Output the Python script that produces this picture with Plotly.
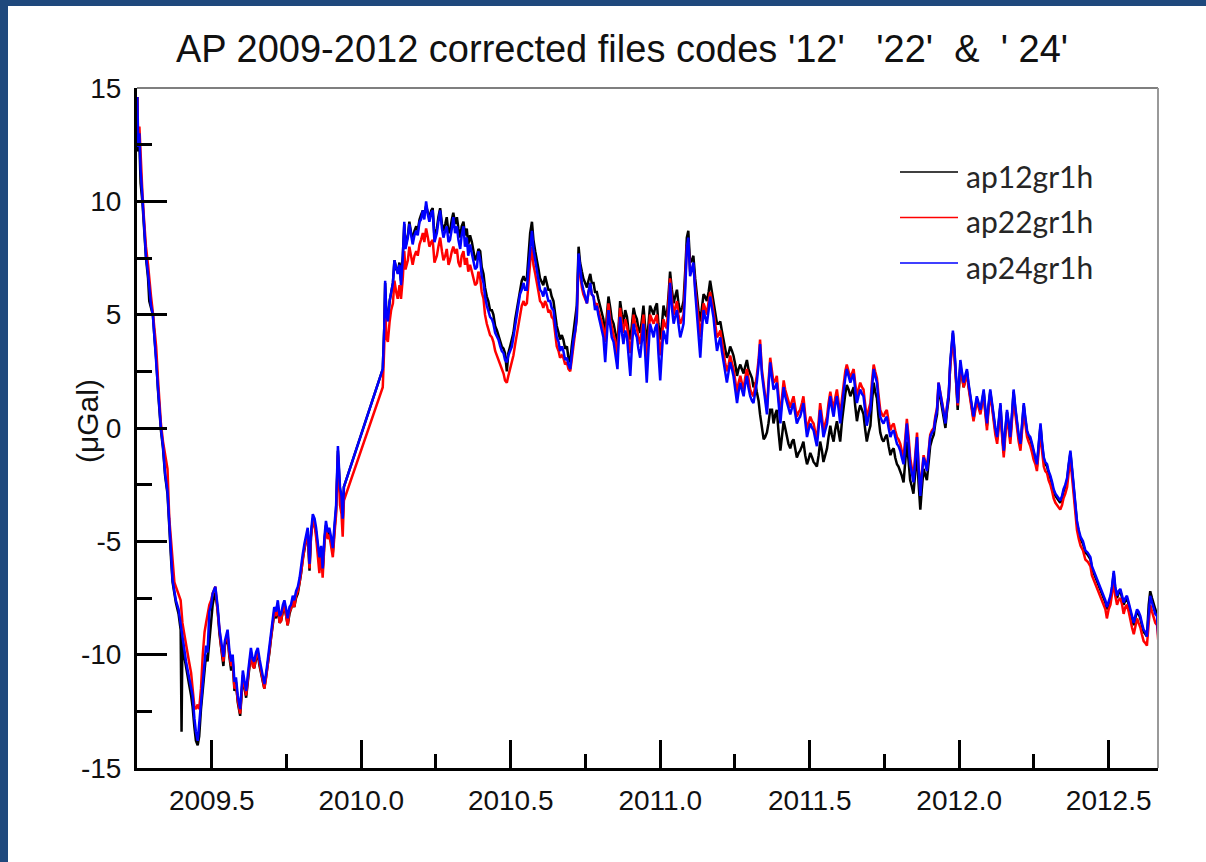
import plotly.graph_objects as go

# ---------------- data (decimal year, µGal) ----------------
dates = [
    2009.251, 2009.254, 2009.258, 2009.262, 2009.268, 2009.273, 2009.280, 2009.287, 2009.291, 2009.297,
    2009.303, 2009.309, 2009.314, 2009.320, 2009.325, 2009.330, 2009.337, 2009.344, 2009.352, 2009.358,
    2009.364, 2009.369, 2009.375, 2009.380, 2009.389, 2009.396, 2009.399, 2009.402, 2009.407, 2009.414,
    2009.424, 2009.431, 2009.436, 2009.442, 2009.447, 2009.453, 2009.458, 2009.464, 2009.470, 2009.476,
    2009.481, 2009.486, 2009.492, 2009.498, 2009.503, 2009.512, 2009.520, 2009.526, 2009.531, 2009.539,
    2009.544, 2009.548, 2009.553, 2009.559, 2009.565, 2009.570, 2009.576, 2009.581, 2009.587, 2009.595,
    2009.600, 2009.604, 2009.610, 2009.615, 2009.623, 2009.631, 2009.637, 2009.642, 2009.648, 2009.654,
    2009.660, 2009.665, 2009.671, 2009.676, 2009.682, 2009.687, 2009.693, 2009.698, 2009.704, 2009.709,
    2009.715, 2009.721, 2009.727, 2009.732, 2009.738, 2009.743, 2009.749, 2009.754, 2009.760, 2009.765,
    2009.771, 2009.776, 2009.782, 2009.788, 2009.794, 2009.799, 2009.804, 2009.810, 2009.815, 2009.821,
    2009.827, 2009.832, 2009.838, 2009.844, 2009.849, 2009.854, 2009.860, 2009.866, 2009.871, 2009.877,
    2009.882, 2009.888, 2009.893, 2009.899, 2009.905, 2009.911, 2009.916, 2009.922, 2009.926, 2009.929,
    2009.934, 2009.938, 2009.942,
    2010.072, 2010.077, 2010.080, 2010.084, 2010.089, 2010.095, 2010.100, 2010.106, 2010.111, 2010.117,
    2010.122, 2010.128, 2010.133, 2010.139, 2010.144, 2010.148, 2010.156, 2010.161, 2010.167, 2010.172,
    2010.178, 2010.184, 2010.189, 2010.195, 2010.200, 2010.206, 2010.211, 2010.217, 2010.223, 2010.228,
    2010.234, 2010.239, 2010.245, 2010.253, 2010.258, 2010.264, 2010.270, 2010.275, 2010.281, 2010.286,
    2010.292, 2010.297, 2010.303, 2010.308, 2010.314, 2010.320, 2010.325, 2010.331, 2010.336, 2010.342,
    2010.347, 2010.353, 2010.358, 2010.364, 2010.370, 2010.375, 2010.381, 2010.387, 2010.392, 2010.398,
    2010.403, 2010.409, 2010.414, 2010.420, 2010.425, 2010.431, 2010.437, 2010.442, 2010.448, 2010.454,
    2010.459, 2010.465, 2010.470, 2010.476, 2010.481, 2010.487, 2010.492, 2010.498, 2010.504, 2010.509,
    2010.515, 2010.520, 2010.526, 2010.531, 2010.537, 2010.543, 2010.548, 2010.554, 2010.559, 2010.565,
    2010.571, 2010.576, 2010.582, 2010.587, 2010.593, 2010.598, 2010.604, 2010.609, 2010.615, 2010.621,
    2010.626, 2010.632, 2010.637, 2010.643, 2010.649, 2010.654, 2010.660, 2010.665, 2010.671, 2010.676,
    2010.682, 2010.688, 2010.693, 2010.699, 2010.704, 2010.710, 2010.716, 2010.721, 2010.727, 2010.732,
    2010.738, 2010.743, 2010.749, 2010.755, 2010.760, 2010.766, 2010.771, 2010.777, 2010.782, 2010.788,
    2010.793, 2010.799, 2010.805, 2010.810, 2010.816, 2010.821, 2010.827, 2010.833, 2010.838, 2010.844,
    2010.849, 2010.853, 2010.857, 2010.861, 2010.866, 2010.872, 2010.877, 2010.883, 2010.889, 2010.894,
    2010.900, 2010.905, 2010.911, 2010.916, 2010.922, 2010.927, 2010.933, 2010.939, 2010.944, 2010.950,
    2010.955, 2010.961, 2010.966, 2010.972, 2010.978, 2010.983, 2010.989, 2010.994, 2011.000, 2011.006,
    2011.011, 2011.017, 2011.022, 2011.028, 2011.033, 2011.039, 2011.045, 2011.050, 2011.056, 2011.061,
    2011.067, 2011.073, 2011.078, 2011.084, 2011.089, 2011.094, 2011.100, 2011.106, 2011.111, 2011.117,
    2011.123, 2011.128, 2011.134, 2011.139, 2011.145, 2011.150, 2011.156, 2011.162, 2011.167, 2011.173,
    2011.178, 2011.184, 2011.190, 2011.195, 2011.201, 2011.206, 2011.212, 2011.217, 2011.223, 2011.229,
    2011.234, 2011.240, 2011.245, 2011.251, 2011.257, 2011.262, 2011.268, 2011.273, 2011.279, 2011.284,
    2011.290, 2011.295, 2011.301, 2011.307, 2011.312, 2011.318, 2011.323, 2011.329, 2011.334, 2011.340,
    2011.346, 2011.351, 2011.357, 2011.362, 2011.368, 2011.374, 2011.379, 2011.385, 2011.390, 2011.396,
    2011.402, 2011.407, 2011.413, 2011.418, 2011.424, 2011.429, 2011.435, 2011.441, 2011.446, 2011.452,
    2011.457, 2011.463, 2011.468, 2011.474, 2011.479, 2011.485, 2011.491, 2011.496, 2011.502, 2011.508,
    2011.513, 2011.519, 2011.524, 2011.530, 2011.535, 2011.541, 2011.546, 2011.552, 2011.558, 2011.563,
    2011.569, 2011.574, 2011.580, 2011.585, 2011.591, 2011.597, 2011.602, 2011.608, 2011.613, 2011.619,
    2011.624, 2011.630, 2011.636, 2011.641, 2011.647, 2011.652, 2011.658, 2011.663, 2011.669, 2011.675,
    2011.680, 2011.686, 2011.691, 2011.697, 2011.703, 2011.708, 2011.714, 2011.719, 2011.725, 2011.730,
    2011.736, 2011.742, 2011.747, 2011.753, 2011.758, 2011.764, 2011.770, 2011.775, 2011.781, 2011.786,
    2011.792, 2011.797, 2011.803, 2011.808, 2011.814, 2011.820, 2011.825, 2011.831, 2011.836, 2011.842,
    2011.847, 2011.853, 2011.859, 2011.864, 2011.870, 2011.875, 2011.881, 2011.887, 2011.892, 2011.898,
    2011.903, 2011.909, 2011.915, 2011.920, 2011.926, 2011.931, 2011.937, 2011.943, 2011.948, 2011.954,
    2011.959, 2011.965, 2011.970, 2011.975, 2011.979, 2011.984, 2011.987, 2011.991, 2011.995, 2011.999,
    2012.004, 2012.009, 2012.015, 2012.020, 2012.026, 2012.031, 2012.037, 2012.043, 2012.048, 2012.054,
    2012.059, 2012.065, 2012.071, 2012.076, 2012.082, 2012.087, 2012.093, 2012.098, 2012.104, 2012.110,
    2012.115, 2012.121, 2012.127, 2012.132, 2012.138, 2012.143, 2012.149, 2012.154, 2012.160, 2012.166,
    2012.171, 2012.177, 2012.182, 2012.188, 2012.194, 2012.199, 2012.205, 2012.210, 2012.216, 2012.221,
    2012.227, 2012.232, 2012.238, 2012.244, 2012.249, 2012.255, 2012.260, 2012.266, 2012.272, 2012.277,
    2012.283, 2012.288, 2012.294, 2012.299, 2012.305, 2012.311, 2012.316, 2012.322, 2012.327, 2012.333,
    2012.338, 2012.344, 2012.349, 2012.355, 2012.361, 2012.366, 2012.372, 2012.377, 2012.383, 2012.389,
    2012.394, 2012.400, 2012.406, 2012.414, 2012.422, 2012.430, 2012.439, 2012.444, 2012.450, 2012.455,
    2012.461, 2012.466, 2012.472, 2012.478, 2012.483, 2012.489, 2012.494, 2012.500, 2012.506, 2012.511,
    2012.517, 2012.522, 2012.528, 2012.533, 2012.539, 2012.545, 2012.550, 2012.556, 2012.561, 2012.567,
    2012.572, 2012.578, 2012.584, 2012.589, 2012.595, 2012.600, 2012.606, 2012.611, 2012.617, 2012.623,
    2012.628, 2012.634, 2012.639, 2012.645, 2012.651, 2012.656, 2012.662, 2012.666,
]

# ap12gr1h (black)
ap12gr1h = [
    14.6, 12.2, 12.6, 10.8, 10.0, 8.9, 7.5, 6.6, 5.6, 5.3,
    5.0, 3.9, 3.1, 1.7, 0.8, -0.1, -0.9, -2.1, -2.9, -4.6,
    -5.8, -6.8, -7.4, -7.7, -8.2, -8.9, -13.4, -9.3, -10.0, -10.6,
    -11.3, -11.8, -12.3, -13.2, -13.8, -14.0, -13.6, -12.4, -11.6, -10.8,
    -10.0, -10.3, -9.4, -8.6, -7.8, -7.2, -8.1, -9.1, -9.7, -10.5,
    -9.6, -9.4, -9.2, -10.1, -10.7, -10.3, -11.6, -11.2, -12.1, -12.7,
    -11.8, -11.0, -11.5, -11.9, -10.9, -10.0, -10.4, -10.6, -10.2, -10.0,
    -10.5, -10.9, -11.2, -11.5, -11.0, -10.5, -9.9, -9.3, -8.8, -8.2,
    -8.4, -7.9, -8.6, -8.5, -8.1, -7.9, -8.3, -8.7, -8.2, -8.0,
    -7.7, -7.9, -7.5, -7.3, -6.9, -6.4, -5.8, -5.3, -5.0, -4.6,
    -6.3, -4.8, -4.0, -4.3, -4.6, -5.2, -5.9, -5.4, -6.3, -5.0,
    -4.3, -4.8, -4.6, -5.0, -5.5, -4.4, -3.6, -1.0, -2.0, -2.8,
    -3.2, -4.1, -2.6,
    2.6, 4.4, 6.4, 5.0, 4.8, 5.6, 6.0, 6.4, 7.4, 7.0,
    6.9, 7.3, 6.5, 7.6, 9.0, 8.0, 8.5, 9.1, 8.6, 8.3,
    8.7, 8.9, 8.7, 9.2, 9.4, 9.6, 9.4, 9.8, 9.5, 9.3,
    9.6, 9.7, 8.4, 8.8, 9.3, 9.7, 9.0, 8.7, 9.0, 9.3,
    8.6, 8.7, 9.2, 9.5, 9.0, 9.3, 8.8, 8.4, 8.9, 9.1,
    8.5, 8.8, 8.1, 8.5, 8.2, 7.9, 7.4, 7.6, 7.9, 7.8,
    7.1, 6.8, 6.2, 5.8, 5.6, 5.2, 5.2, 5.0, 4.5, 4.3,
    4.1, 3.8, 3.6, 3.5, 3.3, 2.5, 3.3, 3.6, 3.9, 4.2,
    4.8, 5.2, 5.7, 6.2, 6.5, 6.7, 6.5, 6.6, 7.6, 8.6,
    9.1, 8.3, 7.8, 7.5, 7.0, 6.6, 6.4, 6.3, 6.7, 6.4,
    6.1, 6.1, 5.8, 5.6, 5.0, 4.5, 4.2, 3.9, 4.1, 3.9,
    3.5, 3.6, 3.1, 2.9, 3.6, 4.3, 4.8, 5.4, 8.0, 7.3,
    6.9, 6.6, 6.4, 6.2, 6.5, 6.8, 6.4, 6.4, 6.0, 6.0,
    5.7, 5.4, 5.1, 4.8, 4.1, 5.0, 5.8, 5.3, 4.8, 4.6,
    4.3, 4.0, 3.6, 4.7, 5.6, 5.0, 4.6, 5.2, 4.9, 4.3,
    3.9, 4.5, 5.3, 5.0, 4.8, 4.4, 4.2, 4.8, 5.4, 4.4,
    3.7, 4.6, 5.4, 5.2, 5.0, 5.3, 5.5, 4.6, 3.9, 4.6,
    5.4, 5.0, 4.9, 5.9, 6.9, 6.1, 5.5, 5.8, 6.1, 5.5,
    5.1, 5.3, 5.6, 7.0, 8.4, 8.7, 7.3, 7.4, 7.6, 6.6,
    5.8, 5.2, 4.7, 5.2, 5.9, 5.8, 5.6, 6.0, 6.5, 6.0,
    5.6, 5.1, 4.6, 4.6, 4.7, 4.3, 3.9, 3.5, 3.1, 3.3,
    3.6, 3.4, 3.2, 2.8, 2.3, 2.6, 2.8, 2.6, 2.4, 2.7,
    3.0, 2.6, 2.4, 2.2, 1.8, 2.0, 1.6, 1.2, 0.6, 0.0,
    -0.5, -0.4, -0.2, 0.2, 0.8, 0.8, 0.2, 0.6, 0.8, -0.2,
    -1.0, -0.4, 0.3, 0.0, -0.4, -0.7, -0.9, -0.6, -0.5, -1.0,
    -1.3, -1.1, -1.0, -0.8, -0.6, -1.2, -1.6, -1.4, -1.1, -1.3,
    -1.5, -1.6, -1.7, -1.2, -0.6, -1.0, -1.5, -1.2, -0.9, -0.4,
    0.1, -0.3, -0.6, -0.1, 0.3, -0.2, -0.6, 0.3, 1.0, 1.5,
    1.9, 1.7, 1.4, 1.6, 1.8, 1.0, 0.3, 0.7, 1.0, 0.8,
    0.6, -0.1, -0.6, -0.2, 0.1, 1.1, 2.0, 1.6, 1.3, 0.5,
    -0.2, -0.5, -0.6, -0.4, -0.3, -0.8, -1.2, -1.0, -0.9, -1.3,
    -1.6, -1.7, -1.9, -2.1, -2.4, -1.4, -0.6, -1.5, -2.3, -2.6,
    -2.9, -2.0, -1.0, -2.4, -3.6, -2.7, -1.8, -2.1, -2.3, -1.5,
    -0.8, -0.5, -0.3, 0.2, 0.6, 1.8, 1.3, 0.9, 0.4, 0.0,
    0.7, 1.3, 2.8, 3.7, 4.2, 3.4, 2.8, 1.6, 0.8, 1.7,
    2.8, 2.3, 1.8, 2.1, 2.5, 1.9, 1.3, 0.8, 0.4, 0.9,
    1.3, 1.0, 0.7, 1.1, 1.6, 0.8, 0.1, 0.9, 1.6, 1.0,
    0.4, -0.1, -0.5, 0.3, 1.0, -0.1, -1.1, -0.2, 0.7, 0.1,
    -0.5, 0.6, 1.6, 0.8, 0.1, -0.4, -0.8, 0.1, 1.0, 0.4,
    -0.2, -0.4, -0.5, -0.8, -1.1, -1.4, -1.7, -0.8, 0.1, -0.7,
    -1.4, -1.6, -1.7, -2.0, -2.2, -2.5, -2.8, -3.0, -3.1, -3.2,
    -3.3, -3.1, -2.8, -2.6, -2.3, -1.7, -1.1, -1.8, -2.7, -3.5,
    -4.2, -4.6, -4.9, -5.1, -5.5, -5.6, -5.8, -6.2, -6.4, -6.5,
    -6.7, -6.9, -7.1, -7.3, -7.5, -7.7, -8.0, -7.7, -7.5, -7.1,
    -6.4, -7.1, -7.5, -7.3, -7.2, -7.5, -7.8, -7.6, -7.5, -7.8,
    -8.1, -8.4, -8.7, -8.4, -8.1, -8.2, -8.4, -8.7, -9.0, -9.1,
    -9.2, -7.8, -7.2, -7.5, -7.8, -8.0, -8.2, -9.0,
]

# ap22gr1h (red)
ap22gr1h = [
    14.6, 12.8, 13.3, 11.8, 10.4, 9.3, 8.0, 7.2, 6.5, 5.8,
    5.1, 4.3, 3.6, 2.2, 1.3, 0.2, -0.6, -1.2, -1.8, -4.0,
    -5.0, -6.0, -6.8, -7.0, -7.3, -7.6, -8.1, -8.6, -9.0, -9.6,
    -10.3, -10.8, -11.6, -12.3, -12.4, -12.2, -12.4, -11.5, -10.0, -9.0,
    -8.6, -8.3, -7.8, -7.6, -7.3, -7.0, -8.0, -9.0, -9.6, -10.3,
    -9.5, -9.3, -9.1, -10.0, -10.5, -10.2, -11.5, -11.3, -12.0, -12.6,
    -11.7, -10.9, -11.4, -11.8, -10.8, -9.9, -10.5, -10.6, -10.1, -9.9,
    -10.4, -10.8, -11.1, -11.5, -11.0, -10.5, -9.9, -9.3, -8.8, -8.1,
    -8.3, -7.8, -8.6, -8.5, -8.0, -7.8, -8.3, -8.7, -8.1, -8.0,
    -7.6, -7.9, -7.4, -7.2, -6.8, -6.4, -5.9, -5.3, -5.0, -4.6,
    -6.2, -4.8, -4.0, -4.3, -4.8, -5.4, -6.4, -5.5, -6.6, -5.1,
    -4.4, -4.9, -4.7, -5.2, -5.7, -4.6, -3.8, -1.2, -2.4, -3.4,
    -3.8, -4.8, -3.2,
    1.8, 3.6, 5.5, 4.0, 3.8, 4.7, 5.2, 5.5, 6.5, 6.0,
    5.7, 6.3, 5.7, 6.6, 7.8, 7.0, 7.4, 8.0, 7.5, 7.2,
    7.6, 7.8, 7.6, 8.1, 8.3, 8.6, 8.2, 8.8, 8.4, 8.0,
    8.2, 8.3, 7.3, 7.6, 8.0, 8.4, 7.8, 7.4, 7.6, 7.9,
    7.2, 7.4, 7.8, 8.0, 7.7, 7.9, 7.3, 7.1, 7.6, 7.8,
    7.2, 7.5, 6.9, 7.2, 6.9, 6.6, 6.3, 6.4, 6.9, 6.6,
    6.0, 5.7, 5.0, 4.6, 4.4, 4.1, 4.0, 3.8, 3.4, 3.2,
    3.0, 2.8, 2.6, 2.4, 2.1, 2.0, 2.3, 2.6, 2.9, 3.2,
    3.7, 4.1, 4.5, 5.0, 5.4, 5.6, 5.4, 5.5, 6.4, 7.3,
    8.0, 7.2, 6.8, 6.5, 6.0, 5.6, 5.5, 5.3, 5.6, 5.4,
    5.1, 5.2, 4.9, 4.8, 4.2, 3.6, 3.4, 3.1, 3.2, 3.1,
    2.8, 2.9, 2.6, 2.5, 3.0, 3.7, 4.2, 4.8, 7.4, 6.8,
    6.2, 5.9, 5.7, 5.5, 6.0, 6.3, 5.9, 5.8, 5.4, 5.5,
    5.2, 4.9, 4.7, 4.4, 3.8, 4.5, 5.5, 4.8, 4.4, 4.1,
    3.9, 3.6, 3.2, 4.3, 5.3, 4.6, 4.2, 4.8, 4.5, 3.9,
    3.3, 4.0, 5.0, 4.6, 4.4, 4.0, 3.7, 4.4, 5.0, 3.8,
    3.0, 4.0, 5.0, 4.8, 4.6, 4.8, 5.0, 4.0, 3.2, 4.0,
    4.8, 4.5, 4.4, 5.6, 6.6, 5.7, 5.0, 5.3, 5.6, 5.0,
    4.6, 4.8, 5.0, 6.6, 8.0, 8.2, 6.9, 7.0, 7.2, 6.2,
    5.3, 4.6, 4.0, 4.7, 5.5, 5.3, 5.0, 5.6, 6.0, 5.6,
    5.2, 4.6, 4.0, 4.1, 4.3, 3.8, 3.3, 2.9, 2.5, 2.8,
    3.2, 2.9, 2.6, 2.1, 1.5, 2.0, 2.3, 2.0, 1.7, 2.2,
    2.6, 2.2, 1.7, 1.5, 1.4, 1.9, 2.3, 3.0, 3.9, 2.6,
    1.9, 1.3, 0.8, 2.0, 3.1, 2.5, 2.0, 2.1, 2.3, 1.4,
    0.5, 1.3, 2.1, 1.7, 1.4, 1.1, 0.9, 1.2, 1.4, 0.9,
    0.5, 0.7, 0.8, 1.1, 1.4, 0.6, -0.1, 0.2, 0.5, 0.3,
    0.2, -0.2, -0.5, 0.3, 1.1, 0.5, -0.1, 0.2, 0.5, 1.1,
    1.6, 1.2, 0.8, 1.3, 1.7, 1.1, 0.5, 1.3, 2.0, 2.5,
    2.8, 2.5, 2.2, 2.4, 2.6, 2.0, 1.4, 1.7, 2.0, 1.8,
    1.7, 1.0, 0.4, 0.8, 1.1, 2.0, 2.8, 2.5, 2.2, 1.5,
    0.8, 0.6, 0.5, 0.7, 0.8, 0.3, -0.1, 0.1, 0.2, -0.1,
    -0.4, -0.5, -0.7, -1.0, -1.3, -0.4, 0.4, -0.4, -1.3, -1.8,
    -2.2, -1.2, -0.2, -1.6, -2.8, -2.0, -1.2, -1.5, -1.8, -1.0,
    -0.3, -0.1, 0.0, 0.5, 0.9, 2.0, 1.5, 1.2, 0.7, 0.3,
    0.9, 1.5, 2.7, 3.5, 3.9, 3.2, 2.6, 1.8, 1.0, 1.8,
    2.7, 2.3, 1.8, 2.1, 2.4, 1.8, 1.2, 0.7, 0.3, 0.8,
    1.2, 0.9, 0.6, 1.0, 1.5, 0.7, -0.1, 0.8, 1.5, 0.9,
    0.3, -0.3, -0.7, 0.1, 0.8, -0.3, -1.3, -0.4, 0.5, -0.1,
    -0.7, 0.4, 1.3, 0.6, -0.1, -0.6, -1.0, -0.1, 0.8, 0.2,
    -0.4, -0.6, -0.8, -1.1, -1.4, -1.6, -1.9, -1.0, -0.2, -1.0,
    -1.7, -1.9, -2.0, -2.3, -2.5, -2.8, -3.1, -3.3, -3.4, -3.5,
    -3.6, -3.4, -3.1, -2.9, -2.6, -2.0, -1.4, -2.1, -3.0, -3.8,
    -4.5, -4.9, -5.2, -5.4, -5.8, -5.9, -6.1, -6.5, -6.7, -6.8,
    -7.0, -7.2, -7.4, -7.6, -7.8, -8.0, -8.4, -8.0, -7.8, -7.4,
    -6.8, -7.4, -7.8, -7.6, -7.5, -7.8, -8.2, -7.9, -7.8, -8.1,
    -8.5, -8.8, -9.1, -8.7, -8.4, -8.6, -8.8, -9.1, -9.4, -9.5,
    -9.6, -8.6, -7.8, -8.1, -8.4, -8.6, -8.7, -9.4,
]

# ap24gr1h (blue)
ap24gr1h = [
    14.6, 12.4, 13.0, 11.4, 10.2, 9.0, 7.6, 6.8, 6.2, 5.4,
    5.0, 4.0, 3.2, 1.8, 0.9, 0.0, -0.8, -2.0, -2.8, -4.4,
    -5.6, -6.7, -7.2, -7.6, -8.0, -8.7, -8.9, -9.1, -9.8, -10.3,
    -11.0, -11.5, -11.8, -12.8, -13.4, -13.8, -13.0, -12.0, -11.2, -10.4,
    -9.6, -9.9, -8.1, -7.8, -7.3, -7.0, -7.9, -8.9, -9.4, -10.1,
    -9.4, -9.1, -8.9, -9.8, -10.3, -10.0, -11.2, -11.0, -11.8, -12.4,
    -11.5, -10.7, -11.2, -11.6, -10.6, -9.7, -10.2, -10.3, -9.9, -9.7,
    -10.2, -10.6, -10.9, -11.3, -10.8, -10.3, -9.7, -9.1, -8.6, -7.9,
    -8.1, -7.6, -8.3, -8.2, -7.8, -7.6, -8.0, -8.4, -7.9, -7.8,
    -7.4, -7.6, -7.2, -7.0, -6.6, -6.2, -5.6, -5.1, -4.8, -4.4,
    -6.0, -4.6, -3.8, -4.0, -4.4, -5.0, -5.7, -5.2, -6.2, -4.8,
    -4.1, -4.6, -4.4, -4.8, -5.3, -4.2, -3.4, -0.8, -1.8, -2.6,
    -3.0, -4.0, -2.6,
    2.6, 4.4, 6.5, 5.0, 4.7, 5.6, 5.9, 6.4, 7.4, 7.0,
    6.8, 7.2, 6.3, 7.5, 9.1, 7.9, 8.4, 9.0, 8.4, 8.1,
    8.5, 8.7, 8.5, 9.1, 9.2, 9.6, 9.2, 10.0, 9.4, 9.1,
    9.5, 9.6, 8.2, 8.6, 9.1, 9.6, 8.8, 8.4, 8.7, 8.9,
    8.2, 8.3, 8.8, 9.3, 8.6, 8.9, 8.3, 7.9, 8.5, 8.9,
    8.0, 8.4, 7.6, 8.1, 7.7, 7.4, 7.0, 7.1, 7.8, 7.4,
    6.7, 6.4, 5.8, 5.4, 5.2, 4.9, 4.8, 4.6, 4.2, 4.0,
    3.9, 3.6, 3.4, 3.3, 3.0, 2.9, 3.2, 3.4, 3.6, 4.0,
    4.5, 4.9, 5.4, 5.9, 6.1, 6.4, 6.1, 6.1, 7.0, 7.9,
    8.7, 7.9, 7.4, 7.1, 6.6, 6.1, 6.0, 5.8, 6.2, 5.9,
    5.6, 5.6, 5.3, 5.2, 4.6, 4.0, 3.8, 3.4, 3.6, 3.4,
    3.0, 3.1, 2.8, 2.6, 3.2, 3.9, 4.3, 4.9, 7.7, 7.0,
    6.4, 6.1, 5.8, 5.5, 6.0, 6.4, 5.9, 5.8, 5.2, 5.4,
    5.0, 4.6, 4.3, 4.0, 2.9, 4.2, 5.2, 4.5, 4.0, 3.8,
    3.4, 3.0, 2.6, 3.8, 4.9, 4.2, 3.7, 4.3, 4.0, 3.2,
    2.3, 3.5, 4.6, 4.2, 4.0, 3.5, 3.1, 3.9, 4.6, 3.2,
    2.0, 3.5, 4.6, 4.3, 4.0, 4.4, 4.6, 3.3, 2.1, 3.4,
    4.3, 4.0, 3.7, 5.0, 6.4, 5.3, 4.6, 4.9, 5.2, 4.6,
    4.0, 4.3, 4.6, 6.2, 7.9, 8.4, 6.7, 7.0, 7.3, 6.0,
    4.9, 4.0, 3.1, 4.2, 5.2, 4.9, 4.6, 5.2, 5.8, 5.3,
    4.9, 4.1, 3.4, 3.7, 4.0, 3.4, 2.9, 2.4, 2.0, 2.5,
    2.9, 2.6, 2.3, 1.7, 1.1, 1.6, 2.0, 1.7, 1.4, 1.9,
    2.3, 1.8, 1.4, 1.2, 1.1, 1.6, 2.0, 2.8, 3.7, 2.4,
    1.7, 1.1, 0.6, 1.8, 2.9, 2.2, 1.7, 1.8, 2.0, 1.1,
    0.2, 1.0, 1.8, 1.4, 1.1, 0.8, 0.6, 0.9, 1.1, 0.6,
    0.2, 0.4, 0.5, 0.8, 1.1, 0.3, -0.4, -0.1, 0.2, 0.0,
    -0.1, -0.5, -0.8, 0.0, 0.8, 0.2, -0.4, -0.1, 0.2, 0.8,
    1.4, 0.9, 0.5, 1.0, 1.4, 0.8, 0.2, 1.0, 1.7, 2.2,
    2.6, 2.3, 2.0, 2.2, 2.4, 1.7, 1.1, 1.4, 1.7, 1.5,
    1.4, 0.7, 0.1, 0.5, 0.8, 1.7, 2.6, 2.3, 2.0, 1.2,
    0.5, 0.3, 0.2, 0.4, 0.5, 0.0, -0.4, -0.2, -0.1, -0.4,
    -0.7, -0.8, -1.0, -1.3, -1.6, -0.7, 0.2, -0.7, -1.6, -2.0,
    -2.4, -1.4, -0.4, -1.7, -3.0, -2.1, -1.3, -1.6, -1.9, -1.1,
    -0.4, -0.2, -0.1, 0.4, 0.8, 2.0, 1.5, 1.1, 0.6, 0.2,
    0.9, 1.5, 2.9, 3.8, 4.3, 3.5, 2.9, 2.0, 1.1, 2.0,
    3.0, 2.5, 2.0, 2.3, 2.6, 2.0, 1.4, 0.9, 0.5, 1.0,
    1.4, 1.1, 0.8, 1.2, 1.7, 0.9, 0.2, 1.0, 1.7, 1.1,
    0.5, 0.0, -0.4, 0.4, 1.1, 0.0, -1.0, -0.1, 0.8, 0.2,
    -0.4, 0.7, 1.7, 0.9, 0.2, -0.3, -0.7, 0.2, 1.1, 0.5,
    -0.1, -0.3, -0.4, -0.7, -1.0, -1.3, -1.6, -0.7, 0.2, -0.6,
    -1.3, -1.5, -1.6, -1.9, -2.1, -2.4, -2.7, -2.9, -3.0, -3.1,
    -3.2, -3.0, -2.7, -2.5, -2.2, -1.6, -1.0, -1.7, -2.6, -3.4,
    -4.1, -4.5, -4.8, -5.0, -5.4, -5.5, -5.7, -6.1, -6.3, -6.4,
    -6.6, -6.8, -7.0, -7.2, -7.4, -7.6, -7.9, -7.6, -7.4, -7.0,
    -6.3, -7.0, -7.4, -7.2, -7.1, -7.4, -7.7, -7.5, -7.4, -7.7,
    -8.0, -8.3, -8.6, -8.3, -8.0, -8.1, -8.3, -8.6, -8.9, -9.0,
    -9.2, -8.2, -7.4, -7.7, -8.0, -8.2, -8.3, -9.2,
]

assert len(dates) == len(ap12gr1h) == len(ap22gr1h) == len(ap24gr1h), (
    len(dates), len(ap12gr1h), len(ap22gr1h), len(ap24gr1h))

series_names = ["ap12gr1h", "ap22gr1h", "ap24gr1h"]
series_values = [ap12gr1h, ap22gr1h, ap24gr1h]
series_colors = ["#000000", "#FF0000", "#0000FF"]

x_tickvals = [2009.5, 2010.0, 2010.5, 2011.0, 2011.5, 2012.0, 2012.5]
x_ticktext = ["2009.5", "2010.0", "2010.5", "2011.0", "2011.5", "2012.0", "2012.5"]
x_minor = [2009.75, 2010.25, 2010.75, 2011.25, 2011.75, 2012.25]
y_tickvals = [-15, -10, -5, 0, 5, 10, 15]
y_ticktext = ["-15", "-10", "-5", "0", "5", "10", "15"]
y_minor = [-12.5, -7.5, -2.5, 2.5, 7.5, 12.5]

title_text = "AP 2009-2012 corrected files codes '12'\u00a0\u00a0 '22'\u00a0 &\u00a0 '\u00a024'"

# ---------------- layout geometry ----------------
W, H = 1206, 862
ML, MR, MT, MB = 137, 48, 88, 94
PW = W - ML - MR
PH = H - MT - MB


def fx(px):
    return (px - ML) / PW


def fy(py):
    return (H - MB - py) / PH


FONT = "Liberation Sans, Arial, sans-serif"

fig = go.Figure()
for name, vals, col in zip(series_names, series_values, series_colors):
    fig.add_trace(go.Scatter(
        x=dates, y=vals, mode="lines", name=name,
        line=dict(color=col, width=2.5), showlegend=False,
    ))

shapes = [
    # slide frame
    dict(type="rect", xref="paper", yref="paper", x0=fx(0), x1=fx(8), y0=fy(H), y1=fy(0),
         fillcolor="#1F497D", line=dict(width=0), layer="above"),
    dict(type="rect", xref="paper", yref="paper", x0=fx(0), x1=fx(W), y0=fy(6), y1=fy(0),
         fillcolor="#1F497D", line=dict(width=0), layer="above"),
    # thin top / right frame of the plot box
    dict(type="line", xref="paper", yref="paper", x0=0, x1=1, y0=1, y1=1,
         line=dict(color="#555555", width=1.5), layer="above"),
    dict(type="line", xref="paper", yref="paper", x0=1, x1=1, y0=0, y1=1,
         line=dict(color="#999999", width=2), layer="above"),
]

annotations = [
    dict(text=title_text, xref="paper", yref="paper", x=fx(622), y=fy(49),
         xanchor="center", yanchor="middle", showarrow=False,
         font=dict(family=FONT, size=38, color="#111111")),
    dict(text="(\u03bcGal)", xref="paper", yref="paper", x=fx(87), y=fy(421),
         xanchor="center", yanchor="middle", textangle=-90, showarrow=False,
         font=dict(family=FONT, size=30, color="#111111")),
]

# legend (drawn at the top-right inside the plot)
for i, (name, col) in enumerate(zip(series_names, series_colors)):
    yline = 172 + 45.5 * i
    shapes.append(dict(type="line", xref="paper", yref="paper",
                       x0=fx(900), x1=fx(958), y0=fy(yline), y1=fy(yline),
                       line=dict(color=col, width=1.5)))
    annotations.append(dict(text=name, xref="paper", yref="paper",
                            x=fx(964), y=fy(yline + 4), xanchor="left", yanchor="middle",
                            showarrow=False,
                            font=dict(family="Lato, Carlito, sans-serif", size=30, color="#262626")))

fig.update_layout(
    width=W, height=H,
    margin=dict(l=ML, r=MR, t=MT, b=MB, pad=0),
    paper_bgcolor="white", plot_bgcolor="white",
    showlegend=False,
    shapes=shapes, annotations=annotations,
    font=dict(family=FONT, color="#111111"),
    xaxis=dict(
        range=[2009.25, 2012.665], tickmode="array", tickvals=x_tickvals, ticktext=x_ticktext,
        ticks="inside", ticklen=28, tickwidth=2.5, tickcolor="black",
        showline=True, linewidth=3, linecolor="black", mirror=False,
        showgrid=False, zeroline=False, ticklabelstandoff=5,
        tickfont=dict(family=FONT, size=28, color="#111111"),
        minor=dict(tickmode="array", tickvals=x_minor, ticks="inside", ticklen=14,
                   tickwidth=2.5, tickcolor="black", showgrid=False),
    ),
    yaxis=dict(
        range=[-15, 15], tickmode="array", tickvals=y_tickvals, ticktext=y_ticktext,
        ticks="inside", ticklen=30, tickwidth=2.5, tickcolor="black",
        showline=True, linewidth=3, linecolor="black", mirror=False,
        showgrid=False, zeroline=False, ticklabelstandoff=7,
        tickfont=dict(family=FONT, size=28, color="#111111"),
        minor=dict(tickmode="array", tickvals=y_minor, ticks="inside", ticklen=15,
                   tickwidth=2.5, tickcolor="black", showgrid=False),
    ),
)

fig.write_html("out.html")
